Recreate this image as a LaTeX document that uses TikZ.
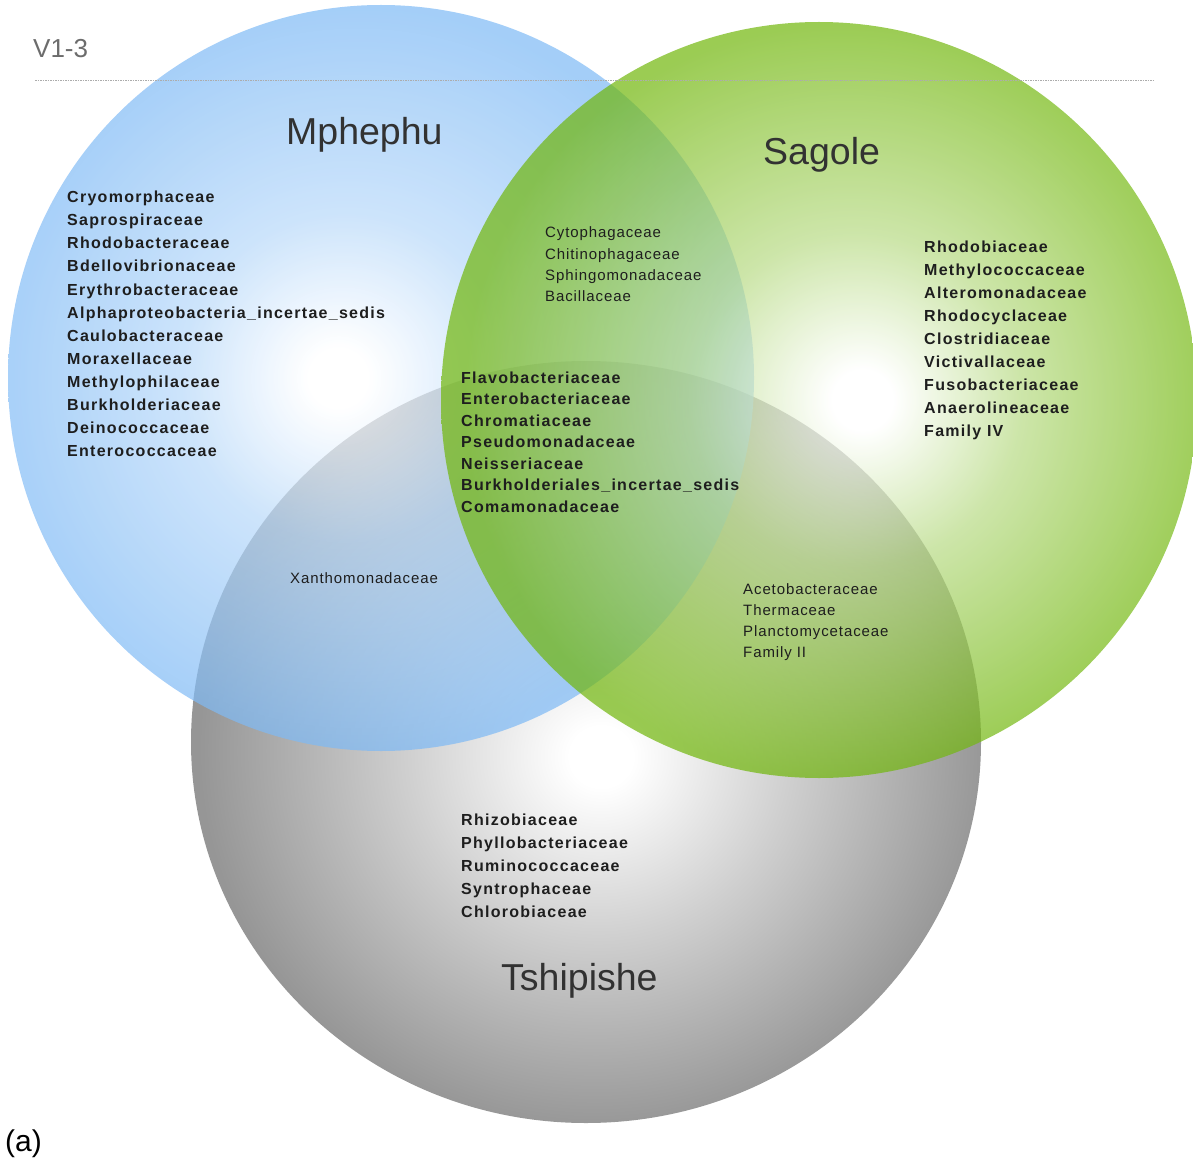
\documentclass[tikz,border=0pt]{standalone}
\usepackage{fontspec}
\setmainfont{Liberation Sans}
\newfontfamily\listfont[LetterSpace=8]{Liberation Sans}
\newfontfamily\plainfont[LetterSpace=6]{Liberation Sans}
\definecolor{bluec}{RGB}{125,185,245}
\definecolor{greenc}{RGB}{112,182,10}
\definecolor{grayc}{RGB}{150,150,150}
\definecolor{txt}{RGB}{30,30,30}
\definecolor{ttl}{RGB}{50,50,50}
\pgfdeclareradialshading{blueshade}{\pgfpoint{-3bp}{0bp}}{color(0bp)=(white); color(2bp)=(white); color(11bp)=(bluec!55!white); color(25bp)=(bluec); color(50bp)=(bluec)}
\pgfdeclareradialshading{greenshade}{\pgfpoint{3bp}{0bp}}{color(0bp)=(white); color(2bp)=(white); color(11bp)=(greenc!50!white); color(25bp)=(greenc); color(50bp)=(greenc)}
\pgfdeclareradialshading{grayshade}{\pgfpoint{1bp}{-1bp}}{color(0bp)=(white); color(2bp)=(white); color(12bp)=(grayc!45!white); color(25bp)=(grayc); color(50bp)=(grayc)}
\begin{document}
\begin{tikzpicture}[x=1pt,y=-1pt,
  boldlist/.style={anchor=base west, inner sep=0pt, text=txt, font=\listfont\bfseries\fontsize{16}{18}\selectfont},
  plainlist/.style={anchor=base west, inner sep=0pt, text=txt, font=\plainfont\fontsize{15}{17}\selectfont},
  title/.style={anchor=base west, inner sep=0pt, text=ttl, font=\fontsize{37.5}{40}\selectfont},
  rule/.style={draw=gray!65, line width=0.8pt, dash pattern=on 1.5pt off 1pt}]
\useasboundingbox (0,0) rectangle (1193,1166);
\shade[shading=grayshade] (586,742) ellipse [x radius=395pt, y radius=381pt];
\shade[shading=blueshade, opacity=0.7] (381,378) circle [radius=373pt];
\shade[shading=greenshade, opacity=0.7] (819,400) circle [radius=378pt];
\coordinate (dl) at (35,80);
\coordinate (dr) at (1155,80);
\draw[rule] (dl) -- (dr);
\node[anchor=base west, inner sep=0pt, text=gray!85!black, font=\fontsize{26}{30}\selectfont] (v13) at (33,58) {V1-3};
\node[anchor=base west, inner sep=0pt, text=black, font=\fontsize{30}{34}\selectfont] (lab) at (5,1151) {(a)};
\node[title] (tm) at (286,145) {Mphephu};
\node[title] (ts) at (763,165) {Sagole};
\node[title] (tt) at (501,990) {Tshipishe};
\foreach \t [count=\i] in {Cryomorphaceae,Saprospiraceae,Rhodobacteraceae,Bdellovibrionaceae,Erythrobacteraceae,Alphaproteobacteria\_incertae\_sedis,Caulobacteraceae,Moraxellaceae,Methylophilaceae,Burkholderiaceae,Deinococcaceae,Enterococcaceae}
  \node[boldlist] (m\i) at (67,{203+23*(\i-1)}) {\t};
\foreach \t [count=\i] in {Rhodobiaceae,Methylococcaceae,Alteromonadaceae,Rhodocyclaceae,Clostridiaceae,Victivallaceae,Fusobacteriaceae,Anaerolineaceae,Family IV}
  \node[boldlist] (s\i) at (924,{252+23*(\i-1)}) {\t};
\foreach \t [count=\i] in {Flavobacteriaceae,Enterobacteriaceae,Chromatiaceae,Pseudomonadaceae,Neisseriaceae,Burkholderiales\_incertae\_sedis,Comamonadaceae}
  \node[boldlist] (c\i) at (461,{383+21.5*(\i-1)}) {\t};
\foreach \t [count=\i] in {Rhizobiaceae,Phyllobacteriaceae,Ruminococcaceae,Syntrophaceae,Chlorobiaceae}
  \node[boldlist] (t\i) at (461,{825+23*(\i-1)}) {\t};
\foreach \t [count=\i] in {Cytophagaceae,Chitinophagaceae,Sphingomonadaceae,Bacillaceae}
  \node[plainlist] (ms\i) at (545,{238+21.3*(\i-1)}) {\t};
\foreach \t [count=\i] in {Acetobacteraceae,Thermaceae,Planctomycetaceae,Family II}
  \node[plainlist] (st\i) at (743,{594+21.3*(\i-1)}) {\t};
\node[plainlist] (mt1) at (290,583) {Xanthomonadaceae};
\end{tikzpicture}
\end{document}
